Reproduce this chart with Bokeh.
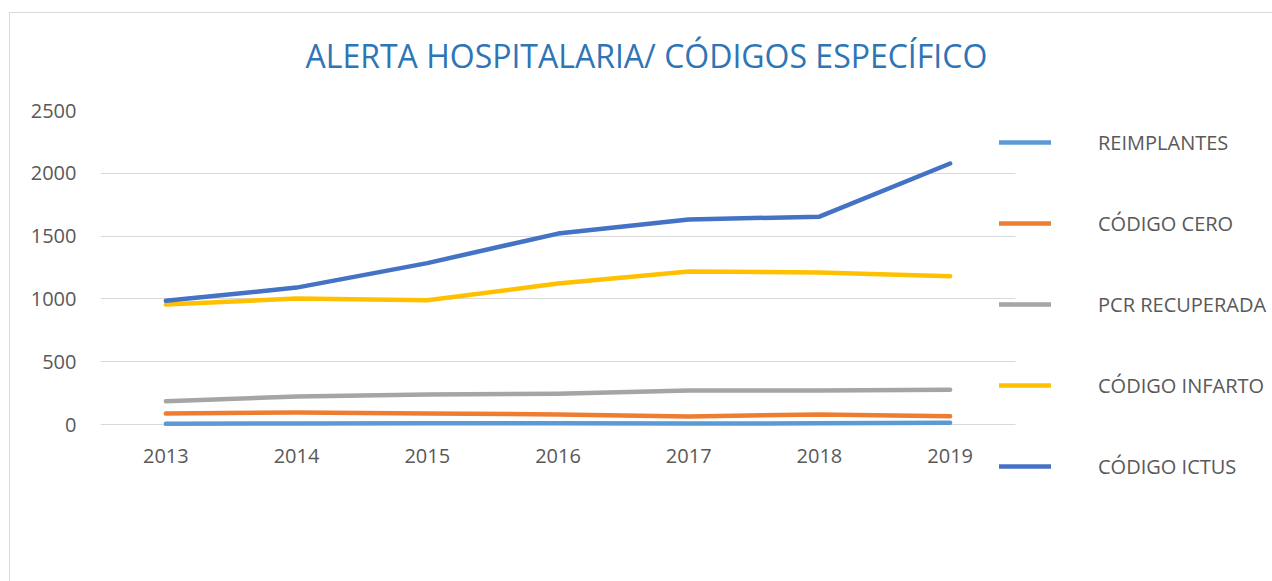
from bokeh.plotting import figure
from bokeh.models import Range1d, Legend, LegendItem, FixedTicker
from bokeh.embed import file_html
from bokeh.resources import INLINE

years = [2013, 2014, 2015, 2016, 2017, 2018, 2019]
year_labels = ["2013", "2014", "2015", "2016", "2017", "2018", "2019"]
reimplantes = [5, 8, 10, 9, 8, 9, 14]
codigo_cero = [88, 95, 88, 80, 64, 80, 66]
pcr_recuperada = [185, 223, 239, 244, 271, 271, 276]
codigo_infarto = [955, 1003, 990, 1122, 1218, 1210, 1180]
codigo_ictus = [985, 1090, 1285, 1520, 1632, 1655, 2078]
series_names = ["REIMPLANTES", "CÓDIGO CERO", "PCR RECUPERADA", "CÓDIGO INFARTO", "CÓDIGO ICTUS"]
series_values = [reimplantes, codigo_cero, pcr_recuperada, codigo_infarto, codigo_ictus]
colors = ["#5B9BD5", "#ED7D31", "#A5A5A5", "#FFC000", "#4472C4"]
y_ticks = [0, 500, 1000, 1500, 2000, 2500]
title_text = "ALERTA HOSPITALARIA/ CÓDIGOS ESPECÍFICO"

FONT = "Open Sans"

# frame: x 100..1272 px, y 110..521 px ; 2500 at 110 px, 0 at 424 px
px_per_unit = 314 / 2500
y_bottom = -(521 - 424) / px_per_unit
px_per_year = 915 / 7
x_start = years[0] - 0.5
x_end = x_start + 1172 / px_per_year

p = figure(width=1272, height=581, x_range=Range1d(x_start, x_end), y_range=Range1d(y_bottom, 2500),
           output_backend="svg", toolbar_location=None,
           min_border_left=100, min_border_right=0, min_border_top=110, min_border_bottom=60)
p.outline_line_color = None
p.background_fill_alpha = 0
p.border_fill_alpha = 0
p.styles = {"box-shadow": "inset 9px 12px 0 0 #FFFFFF, inset 10px 13px 0 0 #D9D9D9",
            "background-color": "#FFFFFF"}

p.title.text = title_text
p.title.text_font = FONT
p.title.text_font_size = "32px"
p.title.text_font_style = "normal"
p.title.text_color = "#2E75B6"
p.title.align = "left"
p.title.offset = 205
p.title.vertical_align = "middle"
p.title.standoff = 65

p.xgrid.grid_line_color = None
p.ygrid.grid_line_color = "#D9D9D9"
p.ygrid.grid_line_width = 1
p.ygrid.cross_bounds = (years[0] - 0.5, years[-1] + 0.5)
p.yaxis.ticker = FixedTicker(ticks=y_ticks)
p.xaxis.ticker = FixedTicker(ticks=years)
p.xaxis.major_label_overrides = dict(zip(years, year_labels))
p.xaxis.fixed_location = 0

for ax in (p.xaxis, p.yaxis):
    ax.axis_line_color = None
    ax.major_tick_line_color = None
    ax.minor_tick_line_color = None
    ax.major_label_text_font = FONT
    ax.major_label_text_font_size = "20px"
    ax.major_label_text_color = "#595959"
p.yaxis.major_label_standoff = 18
p.xaxis.major_label_standoff = 18

renderers = []
for name, vals, col in zip(series_names, series_values, colors):
    r = p.line(years, vals, line_color=col, line_width=4.5, line_cap="round", line_join="round")
    renderers.append((name, r))

legend = Legend(items=[LegendItem(label=n, renderers=[r]) for n, r in renderers],
                location=(899, 41), orientation="vertical",
                glyph_width=52, glyph_height=28, label_height=28, spacing=53,
                label_standoff=47, padding=0, margin=0,
                label_text_font=FONT, label_text_font_size="20px", label_text_color="#595959",
                border_line_color=None, background_fill_alpha=0)
p.add_layout(legend, "center")

open("out.html", "w").write(file_html(p, INLINE))
